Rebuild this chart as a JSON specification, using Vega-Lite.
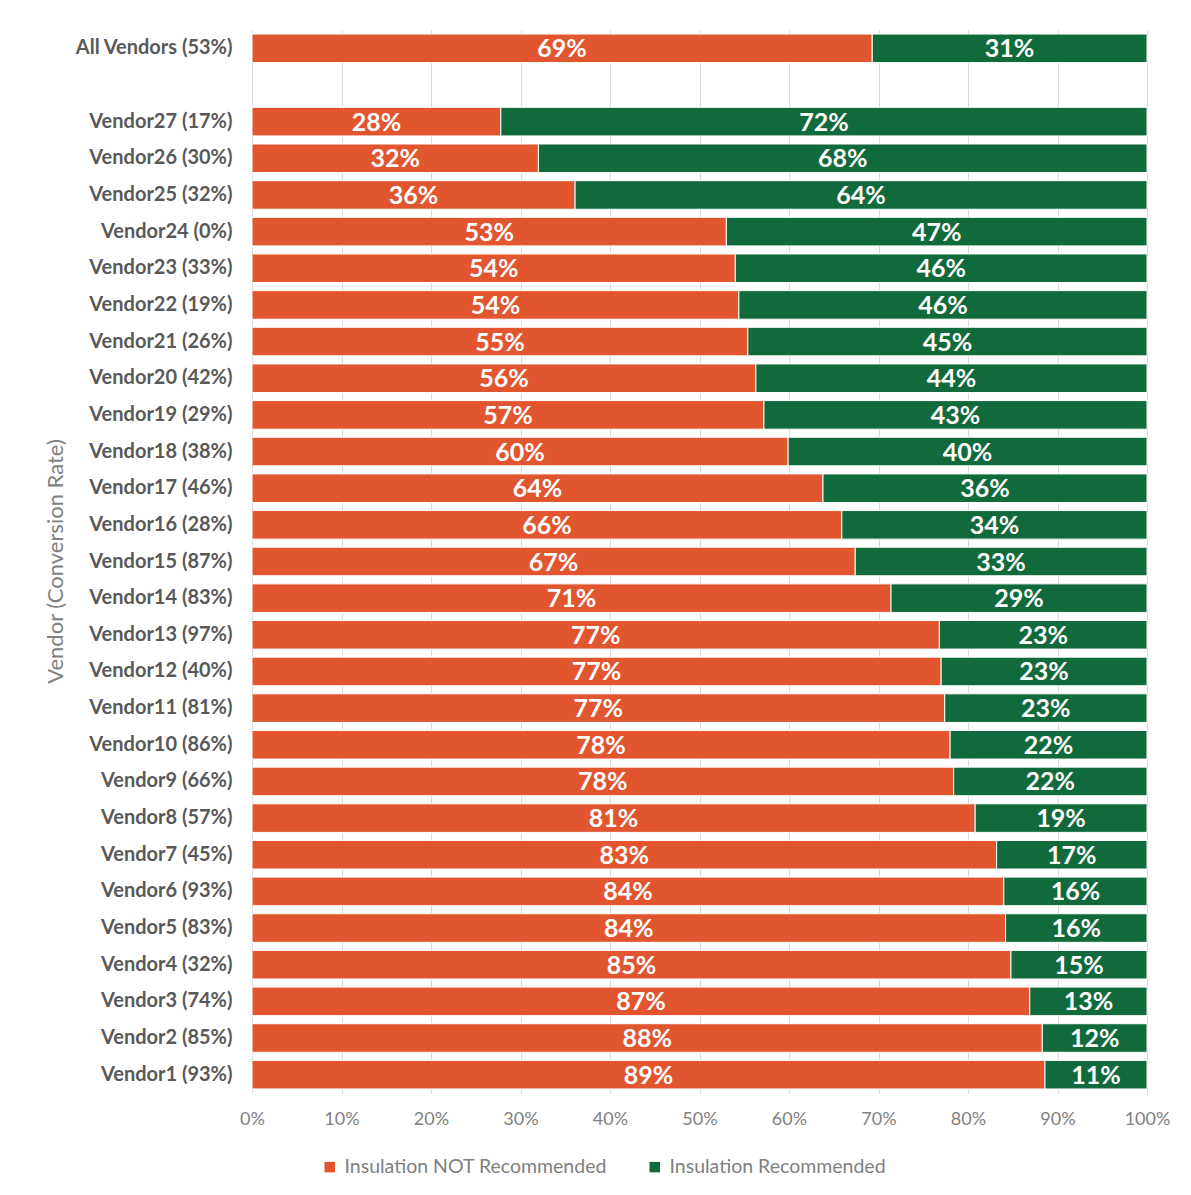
{
  "$schema": "https://vega.github.io/schema/vega-lite/v6.json",
  "autosize": {"type": "none"},
  "width": 895,
  "height": 1063,
  "padding": {"left": 252, "top": 30, "right": 44, "bottom": 102},
  "background": "white",
  "config": {
    "font": "Lato",
    "view": {"stroke": null}
  },
  "data": {
    "values": [
      {"vendor": "All Vendors (53%)", "status": "Insulation NOT Recommended", "share": 0.693},
      {"vendor": "All Vendors (53%)", "status": "Insulation Recommended", "share": 0.307},
      {"vendor": "Vendor27 (17%)", "status": "Insulation NOT Recommended", "share": 0.278},
      {"vendor": "Vendor27 (17%)", "status": "Insulation Recommended", "share": 0.722},
      {"vendor": "Vendor26 (30%)", "status": "Insulation NOT Recommended", "share": 0.320},
      {"vendor": "Vendor26 (30%)", "status": "Insulation Recommended", "share": 0.680},
      {"vendor": "Vendor25 (32%)", "status": "Insulation NOT Recommended", "share": 0.361},
      {"vendor": "Vendor25 (32%)", "status": "Insulation Recommended", "share": 0.639},
      {"vendor": "Vendor24 (0%)", "status": "Insulation NOT Recommended", "share": 0.530},
      {"vendor": "Vendor24 (0%)", "status": "Insulation Recommended", "share": 0.470},
      {"vendor": "Vendor23 (33%)", "status": "Insulation NOT Recommended", "share": 0.540},
      {"vendor": "Vendor23 (33%)", "status": "Insulation Recommended", "share": 0.460},
      {"vendor": "Vendor22 (19%)", "status": "Insulation NOT Recommended", "share": 0.544},
      {"vendor": "Vendor22 (19%)", "status": "Insulation Recommended", "share": 0.456},
      {"vendor": "Vendor21 (26%)", "status": "Insulation NOT Recommended", "share": 0.554},
      {"vendor": "Vendor21 (26%)", "status": "Insulation Recommended", "share": 0.446},
      {"vendor": "Vendor20 (42%)", "status": "Insulation NOT Recommended", "share": 0.563},
      {"vendor": "Vendor20 (42%)", "status": "Insulation Recommended", "share": 0.437},
      {"vendor": "Vendor19 (29%)", "status": "Insulation NOT Recommended", "share": 0.572},
      {"vendor": "Vendor19 (29%)", "status": "Insulation Recommended", "share": 0.428},
      {"vendor": "Vendor18 (38%)", "status": "Insulation NOT Recommended", "share": 0.599},
      {"vendor": "Vendor18 (38%)", "status": "Insulation Recommended", "share": 0.401},
      {"vendor": "Vendor17 (46%)", "status": "Insulation NOT Recommended", "share": 0.638},
      {"vendor": "Vendor17 (46%)", "status": "Insulation Recommended", "share": 0.362},
      {"vendor": "Vendor16 (28%)", "status": "Insulation NOT Recommended", "share": 0.659},
      {"vendor": "Vendor16 (28%)", "status": "Insulation Recommended", "share": 0.341},
      {"vendor": "Vendor15 (87%)", "status": "Insulation NOT Recommended", "share": 0.674},
      {"vendor": "Vendor15 (87%)", "status": "Insulation Recommended", "share": 0.326},
      {"vendor": "Vendor14 (83%)", "status": "Insulation NOT Recommended", "share": 0.714},
      {"vendor": "Vendor14 (83%)", "status": "Insulation Recommended", "share": 0.286},
      {"vendor": "Vendor13 (97%)", "status": "Insulation NOT Recommended", "share": 0.768},
      {"vendor": "Vendor13 (97%)", "status": "Insulation Recommended", "share": 0.232},
      {"vendor": "Vendor12 (40%)", "status": "Insulation NOT Recommended", "share": 0.770},
      {"vendor": "Vendor12 (40%)", "status": "Insulation Recommended", "share": 0.230},
      {"vendor": "Vendor11 (81%)", "status": "Insulation NOT Recommended", "share": 0.774},
      {"vendor": "Vendor11 (81%)", "status": "Insulation Recommended", "share": 0.226},
      {"vendor": "Vendor10 (86%)", "status": "Insulation NOT Recommended", "share": 0.780},
      {"vendor": "Vendor10 (86%)", "status": "Insulation Recommended", "share": 0.220},
      {"vendor": "Vendor9 (66%)", "status": "Insulation NOT Recommended", "share": 0.784},
      {"vendor": "Vendor9 (66%)", "status": "Insulation Recommended", "share": 0.216},
      {"vendor": "Vendor8 (57%)", "status": "Insulation NOT Recommended", "share": 0.808},
      {"vendor": "Vendor8 (57%)", "status": "Insulation Recommended", "share": 0.192},
      {"vendor": "Vendor7 (45%)", "status": "Insulation NOT Recommended", "share": 0.832},
      {"vendor": "Vendor7 (45%)", "status": "Insulation Recommended", "share": 0.168},
      {"vendor": "Vendor6 (93%)", "status": "Insulation NOT Recommended", "share": 0.840},
      {"vendor": "Vendor6 (93%)", "status": "Insulation Recommended", "share": 0.160},
      {"vendor": "Vendor5 (83%)", "status": "Insulation NOT Recommended", "share": 0.842},
      {"vendor": "Vendor5 (83%)", "status": "Insulation Recommended", "share": 0.158},
      {"vendor": "Vendor4 (32%)", "status": "Insulation NOT Recommended", "share": 0.848},
      {"vendor": "Vendor4 (32%)", "status": "Insulation Recommended", "share": 0.152},
      {"vendor": "Vendor3 (74%)", "status": "Insulation NOT Recommended", "share": 0.869},
      {"vendor": "Vendor3 (74%)", "status": "Insulation Recommended", "share": 0.131},
      {"vendor": "Vendor2 (85%)", "status": "Insulation NOT Recommended", "share": 0.883},
      {"vendor": "Vendor2 (85%)", "status": "Insulation Recommended", "share": 0.117},
      {"vendor": "Vendor1 (93%)", "status": "Insulation NOT Recommended", "share": 0.886},
      {"vendor": "Vendor1 (93%)", "status": "Insulation Recommended", "share": 0.114}
    ]
  },
  "transform": [
    {"stack": "share", "groupby": ["vendor"], "sort": [{"field": "status", "order": "ascending"}], "as": ["s0", "s1"]},
    {"calculate": "(datum.s0 + datum.s1) / 2", "as": "mid"}
  ],
  "encoding": {
    "y": {
      "field": "vendor",
      "type": "nominal",
      "scale": {
        "domain": ["All Vendors (53%)", " ", "Vendor27 (17%)", "Vendor26 (30%)", "Vendor25 (32%)", "Vendor24 (0%)", "Vendor23 (33%)", "Vendor22 (19%)", "Vendor21 (26%)", "Vendor20 (42%)", "Vendor19 (29%)", "Vendor18 (38%)", "Vendor17 (46%)", "Vendor16 (28%)", "Vendor15 (87%)", "Vendor14 (83%)", "Vendor13 (97%)", "Vendor12 (40%)", "Vendor11 (81%)", "Vendor10 (86%)", "Vendor9 (66%)", "Vendor8 (57%)", "Vendor7 (45%)", "Vendor6 (93%)", "Vendor5 (83%)", "Vendor4 (32%)", "Vendor3 (74%)", "Vendor2 (85%)", "Vendor1 (93%)"],
        "paddingInner": 0.22,
        "paddingOuter": 0.11
      },
      "axis": {
        "title": "Vendor (Conversion Rate)",
        "titleFont": "Lato",
        "titleFontSize": 22,
        "titleFontWeight": "normal",
        "titleColor": "#7F7F7F",
        "titleX": -197,
        "titleY": 531,
        "titleAngle": -90,
        "titleAlign": "center",
        "titleBaseline": "middle",
        "labelFont": "Lato",
        "labelFontSize": 20,
        "labelFontWeight": "bold",
        "labelColor": "#595959",
        "labelPadding": 20,
        "labelLimit": 300,
        "ticks": false,
        "domain": false,
        "grid": false
      }
    }
  },
  "layer": [
    {
      "mark": {"type": "bar", "stroke": "white", "strokeWidth": 1},
      "encoding": {
        "x": {
          "field": "s0",
          "type": "quantitative",
          "scale": {"domain": [0, 1], "nice": false},
          "axis": {
            "format": ".0%",
            "values": [0, 0.1, 0.2, 0.3, 0.4, 0.5, 0.6, 0.7, 0.8, 0.9, 1],
            "labelOverlap": false,
            "labelFlush": false,
            "title": null,
            "labelFont": "Lato",
            "labelFontSize": 18,
            "labelColor": "#7F7F7F",
            "labelPadding": 17,
            "ticks": false,
            "domain": false,
            "grid": true,
            "gridColor": "#D9D9D9",
            "gridWidth": 1
          }
        },
        "x2": {"field": "s1"},
        "color": {
          "field": "status",
          "type": "nominal",
          "scale": {"domain": ["Insulation NOT Recommended", "Insulation Recommended"], "range": ["#E1552F", "#116A3B"]},
          "legend": {
            "title": null,
            "orient": "none",
            "direction": "horizontal",
            "legendX": 68,
            "legendY": 1127,
            "symbolType": "square",
            "symbolSize": 110,
            "symbolStrokeWidth": 0,
            "labelFont": "Lato",
            "labelFontSize": 19.5,
            "labelColor": "#7F7F7F",
            "labelLimit": 400,
            "labelOffset": 5,
            "columnPadding": 38
          }
        }
      }
    },
    {
      "mark": {"type": "text", "color": "white", "font": "Lato", "fontSize": 25, "fontWeight": "bold", "align": "center", "baseline": "middle", "dy": 1},
      "encoding": {
        "x": {"field": "mid", "type": "quantitative"},
        "text": {"field": "share", "type": "quantitative", "format": ".0%"}
      }
    }
  ]
}
